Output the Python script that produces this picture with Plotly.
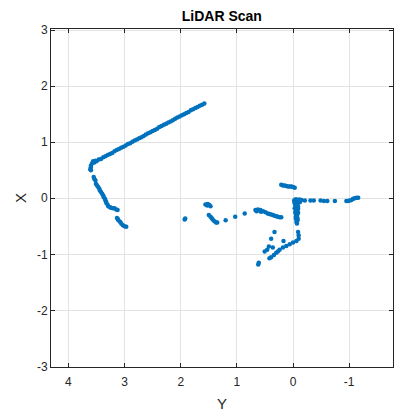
import plotly.graph_objects as go

# Lidar points: horizontal coordinate "Y" and vertical coordinate "X"
wall_y = [3.58, 3.54, 3.50, 3.46, 3.42, 3.38, 3.34, 3.30, 3.26, 3.22, 3.18, 3.14, 3.10, 3.06,
          3.02, 2.98, 2.94, 2.90, 2.86, 2.82, 2.78, 2.74, 2.70, 2.66, 2.62, 2.58, 2.54, 2.50,
          2.46, 2.42, 2.38, 2.34, 2.30, 2.26, 2.22, 2.18, 2.14, 2.10, 2.06, 2.02, 1.98, 1.94,
          1.90, 1.86, 1.82, 1.78, 1.74, 1.70, 1.66, 1.62, 1.58, 3.56, 3.52, 3.60, 3.60, 3.61, 3.60]
wall_x = [0.62, 0.64, 0.66, 0.69, 0.70, 0.73, 0.75, 0.77, 0.79, 0.81, 0.84, 0.86, 0.88, 0.90,
          0.92, 0.94, 0.97, 0.98, 1.01, 1.03, 1.05, 1.07, 1.09, 1.11, 1.14, 1.16, 1.18, 1.20,
          1.22, 1.24, 1.27, 1.29, 1.31, 1.33, 1.35, 1.37, 1.39, 1.42, 1.44, 1.46, 1.48, 1.50,
          1.52, 1.54, 1.57, 1.59, 1.61, 1.63, 1.65, 1.67, 1.69, 0.66, 0.67, 0.58, 0.55, 0.52, 0.50]

left_y = [3.55, 3.54, 3.52, 3.51, 3.49, 3.47, 3.45, 3.44, 3.42, 3.40, 3.38, 3.37, 3.35, 3.34,
          3.33, 3.32, 3.30, 3.29, 3.26, 3.24, 3.21, 3.18, 3.15, 3.125,
          3.135, 3.12, 3.11, 3.08, 3.06, 3.03, 3.00, 2.97]
left_x = [0.38, 0.35, 0.32, 0.26, 0.23, 0.20, 0.17, 0.14, 0.11, 0.08, 0.05, 0.02, -0.01, -0.04,
          -0.06, -0.09, -0.12, -0.14, -0.16, -0.17, -0.18, -0.18, -0.20, -0.21,
          -0.35, -0.37, -0.39, -0.42, -0.45, -0.48, -0.50, -0.51]

mid_y = [1.93, 1.92, 1.56, 1.53, 1.52, 1.49, 1.47, 1.50, 1.47, 1.45, 1.43, 1.40, 1.37, 1.35,
         1.20, 1.03, 0.86,
         0.67, 0.65, 0.625, 0.60, 0.58, 0.57, 0.535, 0.49, 0.45, 0.42, 0.39, 0.36, 0.33, 0.30,
         0.27, 0.24, 0.21]
mid_x = [-0.38, -0.36, -0.11, -0.13, -0.10, -0.12, -0.14, -0.30, -0.33, -0.35, -0.38, -0.41, -0.43, -0.43,
         -0.39, -0.33, -0.27,
         -0.21, -0.23, -0.20, -0.22, -0.21, -0.24, -0.23, -0.25, -0.27, -0.28, -0.29, -0.30, -0.31, -0.32,
         -0.33, -0.34, -0.34]

top_y = [0.21, 0.18, 0.15, 0.12, 0.09, 0.06, 0.03, 0.00, -0.03]
top_x = [0.24, 0.23, 0.23, 0.22, 0.21, 0.21, 0.21, 0.20, 0.19]

post_y = [-0.06, -0.11, -0.03, -0.07, -0.12, -0.03, -0.06, -0.09, -0.03, -0.07, -0.05, -0.09,
          -0.06, -0.07, -0.05, -0.08, -0.06, -0.07, -0.02, -0.04, -0.08, -0.04, -0.08, -0.05,
          -0.10, -0.04, -0.09, -0.06, -0.08, -0.05]
post_x = [-0.02, -0.02, -0.07, -0.07, -0.07, -0.09, -0.12, -0.15, -0.18, -0.21, -0.24, -0.26,
          -0.30, -0.33, -0.36, -0.39, -0.42, -0.45, -0.04, -0.13, -0.10, -0.25, -0.28, -0.33,
          -0.04, -0.02, -0.19, -0.16, -0.36, -0.28]

right_y = [-0.15, -0.21, -0.31, -0.37, -0.49, -0.55, -0.61, -0.745,
           -0.95, -0.98, -1.01, -1.04, -1.07, -1.10, -1.13, -1.16]
right_x = [-0.03, -0.04, -0.04, -0.04, -0.04, -0.05, -0.05, -0.05,
           -0.05, -0.05, -0.04, -0.03, -0.01, 0.00, 0.01, 0.01]

low_y = [-0.09, -0.10, -0.10, -0.06, 0.00, 0.06, 0.12, 0.18, 0.24, 0.30, 0.34, 0.39, 0.42,
         0.33, 0.39, 0.17, 0.43, 0.46, 0.505, 0.36, 0.27, 0.61, 0.62]
low_x = [-0.60, -0.66, -0.72, -0.76, -0.79, -0.82, -0.85, -0.88, -0.92, -0.97, -1.01, -1.05, -1.07,
         -0.60, -0.72, -0.76, -0.86, -0.92, -0.95, -0.88, -0.95, -1.15, -1.18]

x_tick_vals = [4, 3, 2, 1, 0, -1]
x_tick_text = ["4", "3", "2", "1", "0", "-1"]
y_tick_vals = [-3, -2, -1, 0, 1, 2, 3]
y_tick_text = ["-3", "-2", "-1", "0", "1", "2", "3"]

all_y = wall_y + left_y + mid_y + top_y + post_y + right_y + low_y
all_x = wall_x + left_x + mid_x + top_x + post_x + right_x + low_x

fig = go.Figure(go.Scatter(
    x=all_y, y=all_x, mode="markers",
    marker=dict(color="#0072BD", size=4.5, line=dict(width=0)),
    hoverinfo="skip"))

axis_common = dict(
    showline=True, linecolor="#262626", linewidth=1, mirror="ticks",
    ticks="inside", ticklen=4, tickcolor="#262626",
    showgrid=True, gridcolor="#E3E3E3", gridwidth=1,
    zeroline=False, tickfont=dict(size=12, color="#262626"),
)

fig.update_layout(
    width=408, height=407,
    margin=dict(l=43, r=23, t=21, b=48, autoexpand=False),
    paper_bgcolor="white", plot_bgcolor="white",
    font=dict(family="Liberation Sans, Arial, sans-serif", color="#262626"),
    title=dict(text="<b>LiDAR Scan</b>", x=0.524, xanchor="center", y=0.981, yanchor="middle",
               font=dict(size=14, color="black")),
    showlegend=False,
    xaxis=dict(range=[4.31, -1.78], tickvals=x_tick_vals, ticktext=x_tick_text,
               ticklabelstandoff=4,
               title=dict(text="Y", font=dict(size=15), standoff=10), **axis_common),
    yaxis=dict(range=[-3.01, 3.02], tickvals=y_tick_vals, ticktext=y_tick_text,
               title=dict(text="X", font=dict(size=15), standoff=6), **axis_common),
)

fig.write_html("out.html")
